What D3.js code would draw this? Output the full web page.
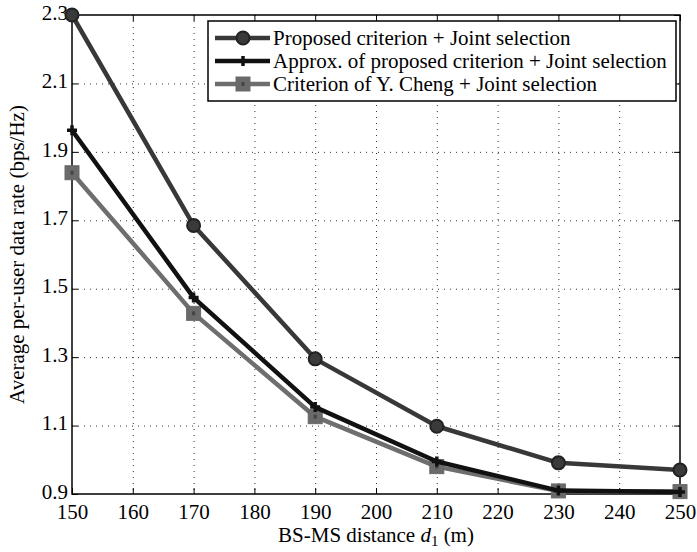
<!DOCTYPE html>
<html>
<head>
<meta charset="utf-8">
<script src="https://cdn.jsdelivr.net/npm/d3@7"></script>
<style>
  body { margin: 0; background: #fff; }
  svg { display: block; }
  text { font-family: "Liberation Serif", "DejaVu Serif", serif; }
</style>
</head>
<body>
<svg id="canvas" width="697" height="552"></svg>
<script>
"use strict";

// Data
var distances = [150, 170, 190, 210, 230, 250];
var proposed = [2.30, 1.685, 1.295, 1.098, 0.991, 0.970];
var approx = [1.963, 1.474, 1.154, 0.995, 0.910, 0.906];
var cheng = [1.839, 1.428, 1.126, 0.980, 0.909, 0.907];
var seriesNames = [
    "Proposed criterion + Joint selection",
    "Approx. of proposed criterion + Joint selection",
    "Criterion of Y. Cheng + Joint selection"
];
var xTicks = [150, 160, 170, 180, 190, 200, 210, 220, 230, 240, 250];
var yTicks = [0.9, 1.1, 1.3, 1.5, 1.7, 1.9, 2.1, 2.3];

var LEFT = 72, RIGHT = 680, TOP = 15, BOTTOM = 494;
var TICK = 6;
var FONT = "21px";

var svg = d3.select("#canvas");
var x = d3.scaleLinear().domain([150, 250]).range([LEFT, RIGHT]);
var y = d3.scaleLinear().domain([0.9, 2.3]).range([BOTTOM, TOP]);

// Dotted grid
var grid = svg.append("g").attr("stroke", "#333").attr("stroke-width", 1)
    .attr("stroke-dasharray", "1,5");
grid.selectAll("line.vx").data(xTicks.slice(1, -1)).enter().append("line")
    .attr("x1", function(d) { return x(d) + 0.5; }).attr("x2", function(d) { return x(d) + 0.5; })
    .attr("y1", TOP).attr("y2", BOTTOM);
grid.selectAll("line.hy").data(yTicks.slice(1, -1)).enter().append("line")
    .attr("x1", LEFT).attr("x2", RIGHT)
    .attr("y1", function(d) { return y(d) + 0.5; }).attr("y2", function(d) { return y(d) + 0.5; });

// Axes (inward ticks on all four sides)
function styleAxis(g) {
    g.select(".domain").remove();
    g.selectAll(".tick line").attr("stroke", "#000").attr("stroke-width", 1);
    g.selectAll(".tick text").attr("font-size", FONT).attr("fill", "#000")
        .attr("font-family", "Liberation Serif, serif");
}
var fmtY = d3.format(".1f");
svg.append("g").attr("transform", "translate(0," + BOTTOM + ")")
    .call(d3.axisBottom(x).tickValues(xTicks).tickSize(-TICK).tickPadding(10).tickFormat(d3.format("d")))
    .call(styleAxis);
svg.append("g").attr("transform", "translate(0," + TOP + ")")
    .call(d3.axisTop(x).tickValues(xTicks).tickSize(-TICK).tickFormat(""))
    .call(styleAxis);
svg.append("g").attr("transform", "translate(" + LEFT + ",0)")
    .call(d3.axisLeft(y).tickValues(yTicks).tickSize(-TICK).tickPadding(4).tickFormat(fmtY))
    .call(styleAxis)
    .selectAll(".tick text").attr("dy", "0.2em");
svg.append("g").attr("transform", "translate(" + RIGHT + ",0)")
    .call(d3.axisRight(y).tickValues(yTicks).tickSize(-TICK).tickFormat(""))
    .call(styleAxis);

svg.append("rect").attr("x", LEFT).attr("y", TOP)
    .attr("width", RIGHT - LEFT).attr("height", BOTTOM - TOP)
    .attr("fill", "none").attr("stroke", "#000").attr("stroke-width", 1.5);

// Series
var series = [
    { name: seriesNames[0], values: proposed, color: "#383838", marker: "circle" },
    { name: seriesNames[1], values: approx, color: "#111111", marker: "plus" },
    { name: seriesNames[2], values: cheng, color: "#6e6e6e", marker: "square" }
];

var line = d3.line()
    .x(function(d, i) { return x(distances[i]); })
    .y(function(d) { return y(d); });

function drawMarker(g, kind, color) {
    if (kind === "circle") {
        g.append("circle").attr("r", 6.5).attr("fill", "#3a3a3a")
            .attr("stroke", "#222").attr("stroke-width", 2);
    } else if (kind === "plus") {
        g.append("path").attr("d", "M-5,0H5M0,-5V5")
            .attr("stroke", color).attr("stroke-width", 3.5).attr("fill", "none");
    } else {
        g.append("rect").attr("x", -7).attr("y", -7).attr("width", 14).attr("height", 14)
            .attr("fill", "#6a6a6a").attr("stroke", "#6a6a6a").attr("stroke-width", 1);
        g.append("rect").attr("x", -1.5).attr("y", -2).attr("width", 3).attr("height", 4)
            .attr("fill", "#444");
    }
}

series.slice().reverse().forEach(function(s) {
    svg.append("path").datum(s.values)
        .attr("d", line)
        .attr("fill", "none")
        .attr("stroke", s.color)
        .attr("stroke-width", 4.5)
        .attr("stroke-linejoin", "round");
    s.values.forEach(function(v, i) {
        var g = svg.append("g").attr("transform", "translate(" + x(distances[i]) + "," + y(v) + ")");
        drawMarker(g, s.marker, s.color);
    });
});

// Legend
var legend = svg.append("g");
legend.append("rect").attr("x", 208).attr("y", 21).attr("width", 468).attr("height", 80)
    .attr("fill", "#fff").attr("stroke", "#000").attr("stroke-width", 1.5);
series.forEach(function(s, i) {
    var ly = 38 + i * 23;
    legend.append("line").attr("x1", 215).attr("x2", 270).attr("y1", ly).attr("y2", ly)
        .attr("stroke", s.color).attr("stroke-width", 4.5);
    var g = legend.append("g").attr("transform", "translate(243," + ly + ")");
    drawMarker(g, s.marker, s.color);
    legend.append("text").attr("x", 273).attr("y", ly + 7)
        .attr("font-size", FONT).attr("fill", "#000").text(s.name);
});

// Axis labels
svg.append("text")
    .attr("transform", "translate(24," + ((TOP + BOTTOM) / 2) + ") rotate(-90)")
    .attr("text-anchor", "middle").attr("font-size", FONT)
    .text("Average per-user data rate (bps/Hz)");

var xl = svg.append("text").attr("x", (LEFT + RIGHT) / 2).attr("y", 542)
    .attr("text-anchor", "middle").attr("font-size", FONT);
xl.append("tspan").text("BS-MS distance ");
xl.append("tspan").attr("font-style", "italic").text("d");
xl.append("tspan").attr("dy", 4).attr("font-size", "15px").text("1");
xl.append("tspan").attr("dy", -4).text(" (m)");
</script>
</body>
</html>
